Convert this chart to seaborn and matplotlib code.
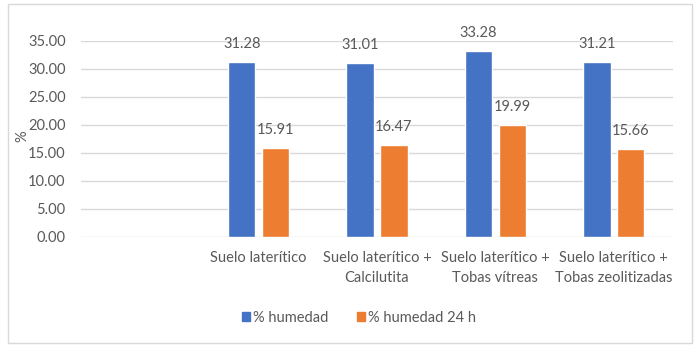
import matplotlib
matplotlib.use("Agg")
import matplotlib.pyplot as plt
from matplotlib.patches import Rectangle
import seaborn as sns
import pandas as pd

categories = ["", "Suelo laterítico", "Suelo laterítico +\nCalcilutita",
              "Suelo laterítico +\nTobas vítreas", "Suelo laterítico +\nTobas zeolitizadas"]
data_categories = categories[1:]
humedad = [31.28, 31.01, 33.28, 31.21]
humedad_24h = [15.91, 16.47, 19.99, 15.66]
series_names = ["% humedad", "% humedad 24 h"]
colors = ["#4472C4", "#ED7D31"]

df = pd.DataFrame({
    "cat": data_categories * 2,
    "val": humedad + humedad_24h,
    "serie": [series_names[0]] * 4 + [series_names[1]] * 4,
})

sns.set_theme(style="white")
plt.rcParams["font.family"] = ["Lato", "DejaVu Sans"]
text_color = "#595959"
fs = 10.5

W, H = 694, 345
fig = plt.figure(figsize=(W / 100, H / 100), dpi=100)
ax = fig.add_axes([81 / W, 1 - 237 / H, (673 - 81) / W, (237 - 41) / H])

sns.barplot(data=df, x="cat", y="val", hue="serie", order=categories,
            hue_order=series_names, palette=colors, width=0.57, gap=0.19,
            saturation=1, ax=ax, legend=False, errorbar=None)

ax.set_xlim(-0.5, 4.5)
ax.set_ylim(0, 35)
ax.set_yticks([0, 5, 10, 15, 20, 25, 30, 35])
ax.set_yticklabels([f"{v:.2f}" for v in ax.get_yticks()])
ax.yaxis.grid(True, color="#D9D9D9", linewidth=1)
ax.set_axisbelow(True)
for s in ax.spines.values():
    s.set_visible(False)
ax.tick_params(axis="y", length=0, pad=11, labelsize=fs, labelcolor=text_color)
ax.tick_params(axis="x", length=0, pad=10, labelsize=fs, labelcolor=text_color)
for lbl in ax.get_xticklabels():
    lbl.set_linespacing(1.55)
ax.set_xlabel("")
ax.set_ylabel("")
fig.text(22 / W, 1 - 136 / H, "%", rotation=90, ha="center", va="center",
         color=text_color, fontsize=fs)

for container in ax.containers:
    ax.bar_label(container, fmt="%.2f", padding=8, fontsize=fs, color=text_color)

handles = [Rectangle((0, 0), 1, 1, color=c) for c in colors]
fig.legend(handles, series_names, loc="center", bbox_to_anchor=(359 / W, 1 - 318 / H),
           ncol=2, frameon=False, fontsize=fs, handlelength=0.55, handleheight=0.55,
           handletextpad=0.2, columnspacing=2.0, labelcolor=text_color)

fig.patches.append(Rectangle((8 / W, 1 - 343 / H), (692 - 8) / W, (343 - 4) / H,
                             transform=fig.transFigure, fill=False,
                             edgecolor="#D9D9D9", linewidth=1))

fig.savefig("out.png", dpi=100)
